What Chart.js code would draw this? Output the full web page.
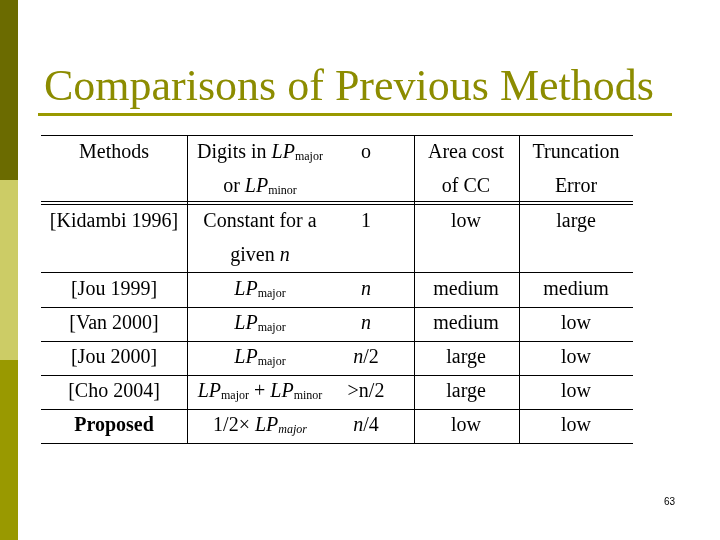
<!DOCTYPE html>
<html><head><meta charset="utf-8">
<script src="https://cdn.jsdelivr.net/npm/chart.js@4"></script>
<style>html,body{margin:0;padding:0;background:#fff}canvas{display:block}</style>
</head><body>
<canvas id="c" width="720" height="540"></canvas>
<script>
const title = "Comparisons of Previous Methods";
const headers = [["Methods"], ["Digits in <i>LP</i><sub>major</sub>", "or <i>LP</i><sub>minor</sub>"], ["o"], ["Area cost", "of CC"], ["Truncation", "Error"]];
const methods = ["[Kidambi 1996]", "[Jou 1999]", "[Van 2000]", "[Jou 2000]", "[Cho 2004]", "<b>Proposed</b>"];
const digits = [["Constant for a", "given <i>n</i>"], ["<i>LP</i><sub>major</sub>"], ["<i>LP</i><sub>major</sub>"], ["<i>LP</i><sub>major</sub>"], ["<i>LP</i><sub>major</sub> + <i>LP</i><sub>minor</sub>"], ["1/2× <i>LP</i><sub><i>major</i></sub>"]];
const oValues = [["1"], ["<i>n</i>"], ["<i>n</i>"], ["<i>n</i>/2"], [">n/2"], ["<i>n</i>/4"]];
const areaCost = ["low", "medium", "medium", "large", "large", "low"];
const truncError = ["large", "medium", "low", "low", "low", "low"];
const pageNumber = "63";

// layout of the table grid (page units)
const colEdges = [41, 187, 300, 414, 519, 633];
const colCenters = [114, 260, 366, 466, 576];
const rowEdges = [135, 204, 272, 307, 341, 375, 409, 443];

const rows = [headers].concat(methods.map((m, i) => [[m], digits[i], oValues[i], [areaCost[i]], [truncError[i]]]));

function drawRich(ctx, str, cx, y, size) {
  const parts = [];
  const re = /<(i|b|sub)>(.*?)<\/\1>|([^<]+)/g;
  let m;
  while ((m = re.exec(str))) {
    if (m[3]) parts.push({ t: m[3] });
    else if (m[1] === "sub") {
      const inner = m[2].replace(/<\/?i>/g, "");
      parts.push({ t: inner, sub: true, i: /<i>/.test(m[2]) });
    } else parts.push({ t: m[2], [m[1]]: true });
  }
  const fontOf = (p) => (p.i ? "italic " : "") + (p.b ? "bold " : "") + (p.sub ? size * 0.6 : size) + "px 'Liberation Serif', serif";
  let w = 0;
  parts.forEach((p) => { ctx.font = fontOf(p); p.w = ctx.measureText(p.t).width; w += p.w; });
  let x = cx - w / 2;
  parts.forEach((p) => {
    ctx.font = fontOf(p);
    ctx.fillText(p.t, x, p.sub ? y + size * 0.2 : y);
    x += p.w;
  });
}

const slidePlugin = {
  id: "slide",
  afterDraw(chart) {
    const { ctx, scales: { x, y } } = chart;
    const X = (v) => x.getPixelForValue(v), Y = (v) => y.getPixelForValue(v);
    ctx.save();
    // sidebar
    ctx.fillStyle = "#6b6b00"; ctx.fillRect(X(0), Y(0), X(18) - X(0), Y(180) - Y(0));
    ctx.fillStyle = "#cccc66"; ctx.fillRect(X(0), Y(180), X(18) - X(0), Y(360) - Y(180));
    ctx.fillStyle = "#999900"; ctx.fillRect(X(0), Y(360), X(18) - X(0), Y(540) - Y(360));
    // title
    ctx.fillStyle = "#8c8c00";
    ctx.font = "44px 'Liberation Serif', serif";
    ctx.textBaseline = "alphabetic";
    ctx.fillText(title, X(44), Y(100));
    ctx.fillStyle = "#999900";
    ctx.fillRect(X(38), Y(113), X(672) - X(38), 3);
    // grid lines
    ctx.strokeStyle = "#000"; ctx.lineWidth = 1;
    const h = (yy) => { ctx.beginPath(); ctx.moveTo(X(colEdges[0]), Y(yy) + 0.5); ctx.lineTo(X(colEdges[5]), Y(yy) + 0.5); ctx.stroke(); };
    rowEdges.forEach((r) => h(r));
    h(rowEdges[1] - 3);
    colEdges.forEach((c, i) => {
      if (i === 0 || i === 2 || i === 5) return;
      ctx.beginPath(); ctx.moveTo(X(c) + 0.5, Y(rowEdges[0])); ctx.lineTo(X(c) + 0.5, Y(rowEdges[7])); ctx.stroke();
    });
    // cells
    ctx.fillStyle = "#000";
    ctx.textBaseline = "middle";
    rows.forEach((row, r) => {
      const top = rowEdges[r], bottom = rowEdges[r + 1];
      row.forEach((lines, c) => {
        if (lines.length === 2) {
          drawRich(ctx, lines[0], X(colCenters[c]), Y(top + 18), 20);
          drawRich(ctx, lines[1], X(colCenters[c]), Y(top + 52), 20);
        } else {
          drawRich(ctx, lines[0], X(colCenters[c]), Y(r <= 1 ? top + 18 : (top + bottom) / 2), 20);
        }
      });
    });
    ctx.font = "10px 'Liberation Sans', sans-serif";
    ctx.fillText(pageNumber, X(664), Y(502));
    ctx.restore();
  }
};

new Chart(document.getElementById("c"), {
  type: "scatter",
  data: { datasets: [{ data: [] }] },
  options: {
    responsive: false,
    animation: false,
    layout: { padding: 0 },
    plugins: { legend: { display: false }, tooltip: { enabled: false } },
    scales: {
      x: { type: "linear", min: 0, max: 720, display: false },
      y: { type: "linear", min: 0, max: 540, reverse: true, display: false }
    }
  },
  plugins: [slidePlugin]
});
</script>
</body></html>
